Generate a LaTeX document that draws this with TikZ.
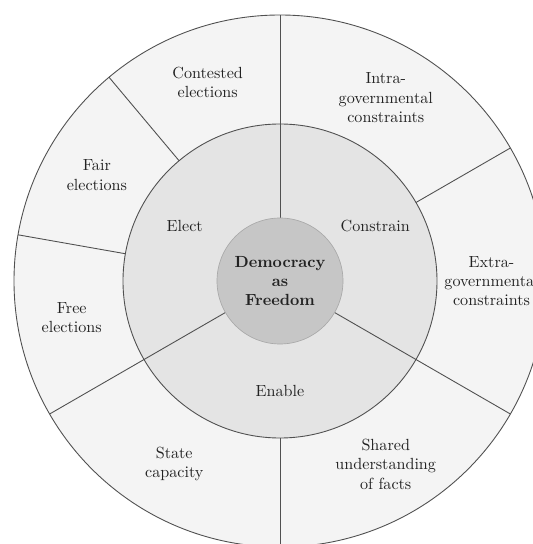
\documentclass[tikz,border=0pt]{standalone}
\begin{document}
\definecolor{ringout}{HTML}{F4F4F4}
\definecolor{ringmid}{HTML}{E4E4E4}
\definecolor{core}{HTML}{C6C6C6}
\definecolor{edge}{HTML}{505050}
\definecolor{ink}{HTML}{222222}
\begin{tikzpicture}[x=0.62pt,y=0.62pt,
  ringline/.style={draw=edge,line width=0.55pt},
  label/.style={text=ink,align=center,font=\normalsize},
  corelabel/.style={text=ink,align=center,font=\normalsize\bfseries}]
  % canvas and clipping window
  \clip (0,0) rectangle (533,544);
  \fill[white] (0,0) rectangle (533,544);
  \begin{scope}[shift={(280,263)}]
    % outer ring and middle ring
    \filldraw[fill=ringout,ringline] (0,0) circle (266);
    \filldraw[fill=ringmid,ringline] (0,0) circle (157);
    % dividers of the three main sectors (through the middle ring)
    \foreach \a in {90,210,330}
      \draw[ringline] (\a:63) -- (\a:266);
    % dividers inside the outer ring only
    \foreach \a in {30,130,170,270}
      \draw[ringline] (\a:157) -- (\a:266);
    % core disc
    \filldraw[fill=core,draw=core!85!black,line width=0.4pt] (0,0) circle (63);
    \node[corelabel] (core) at (0,0) {Democracy\\as\\Freedom};
    % middle ring labels
    \node[label] (elect) at (150:110) {Elect};
    \node[label] (constrain) at (30:110) {Constrain};
    \node[label] (enable) at (270:110) {Enable};
    % outer ring labels
    \node[label] (contested) at (110:211.5) {Contested\\elections};
    \node[label] (fair) at (150:211.5) {Fair\\elections};
    \node[label] (free) at (190:211.5) {Free\\elections};
    \node[label] (state) at (240:211.5) {State\\capacity};
    \node[label] (shared) at (300:211.5) {Shared\\understanding\\of facts};
    \node[label] (extra) at (0:211.5) {Extra-\\governmental\\constraints};
    \node[label] (intra) at (60:211.5) {Intra-\\governmental\\constraints};
  \end{scope}
\end{tikzpicture}
\end{document}
